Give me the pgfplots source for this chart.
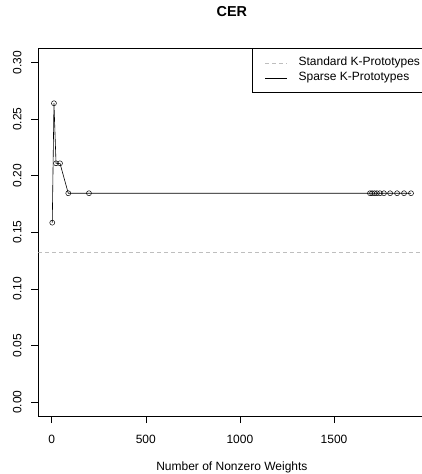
\documentclass[border=0pt]{standalone}
\usepackage{fontspec}
\setmainfont{Liberation Sans}
\usepackage{pgfplots}
\pgfplotsset{compat=1.18}
\definecolor{stdgray}{RGB}{190,190,190}
\begin{document}
\begin{tikzpicture}[font=\fontsize{12}{14.4}\selectfont]
\begin{axis}[
  scale only axis,
  width=387.2pt, height=367.7pt,
  xmin=-71.2, xmax=1986, ymin=-0.0121, ymax=0.3124,
  axis line style={line width=0.6pt, black},
  xtick={0,500,1000,1500},
  ytick={0,0.05,0.10,0.15,0.20,0.25,0.30},
  xtick pos=lower, ytick pos=left,
  tick align=outside,
  major tick length=7pt,
  tick style={black, line width=0.6pt},
  scaled x ticks=false, scaled y ticks=false,
  /pgf/number format/assume math mode=true,
  /pgf/number format/1000 sep={},
  xticklabel style={anchor=north, inner sep=0pt},
  xticklabel shift=12pt,
  yticklabel style={rotate=90, anchor=south, inner sep=0pt,
    /pgf/number format/.cd, fixed, fixed zerofill, precision=2},
  yticklabel shift=9.6pt,
  title={CER},
  title style={at={(0.5,1)}, anchor=base, yshift=26.1pt, inner sep=0pt,
    font=\fontsize{14.4}{17}\selectfont\bfseries},
  xlabel={Number of Nonzero Weights},
  xlabel style={at={(0.5,0)}, anchor=base, yshift=-54.5pt, inner sep=0pt},
  legend style={at={(axis description cs:0.5519,1)}, anchor=north west,
    draw=black, line width=0.6pt, fill=white,
    inner xsep=12.7pt, inner ysep=8.4pt, row sep=3pt, column sep=11pt,
    nodes={inner sep=0pt, text height=9pt, text depth=3pt},
    font=\fontsize{12}{14.4}\selectfont},
  legend cell align=left,
  legend image code/.code={\draw[#1, mark=none] (0pt,0pt) -- (22pt,0pt);},
]
\addplot[stdgray, line width=0.6pt, dash pattern=on 3.5pt off 3.5pt]
  coordinates {(-71.2,0.132) (1986,0.132)};
\addlegendentry{Standard K-Prototypes}
\addplot[black, line width=0.6pt, mark=o, mark size=2.5pt,
  mark options={line width=0.5pt, fill=none}]
  coordinates {(3,0.1585) (12,0.2639) (23,0.2109) (44,0.2109) (88,0.1845)
    (198,0.1845) (1691,0.1845) (1702,0.1845) (1715,0.1845) (1728,0.1845)
    (1744,0.1845) (1765,0.1845) (1798,0.1845) (1835,0.1845) (1872,0.1845)
    (1909,0.1845)};
\addlegendentry{Sparse K-Prototypes}
\end{axis}
\pgfresetboundingbox
\path[use as bounding box] ([shift={(-38.3pt,-58pt)}]current axis.south west)
  rectangle ([shift={(382.7pt,416pt)}]current axis.south west);
\end{tikzpicture}
\end{document}
